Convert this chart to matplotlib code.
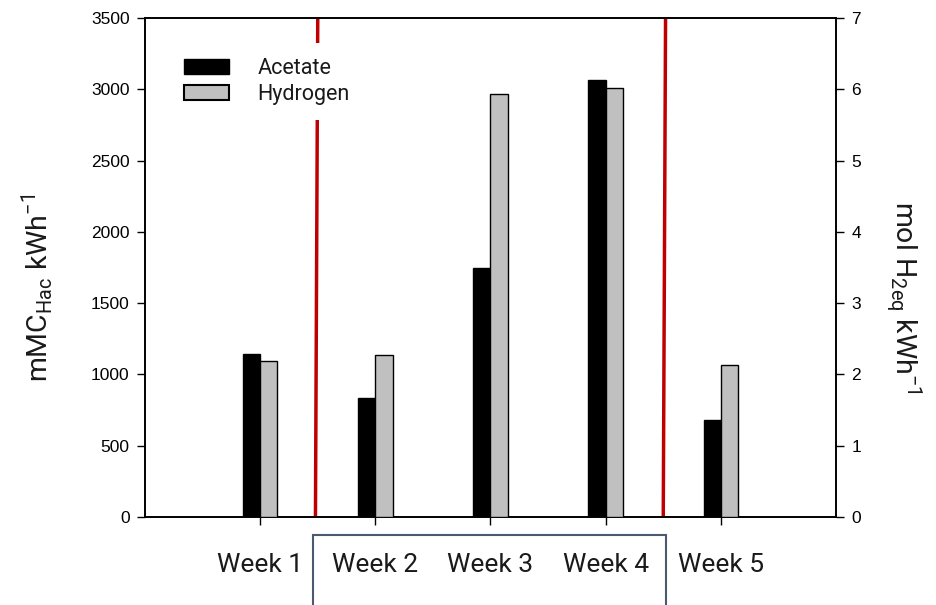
import numpy as np
import matplotlib
matplotlib.use('Agg')
import matplotlib.pyplot as plt
from matplotlib.patches import Rectangle, Patch

# Dane
tygodnie = ['Week 1', 'Week 2', 'Week 3', 'Week 4', 'Week 5']
octan = [1140, 835, 1746, 3065, 680]          # mMC_Hac kWh^-1 (lewa os)
wodor = [2.19, 2.27, 5.93, 6.02, 2.13]        # mol H2eq kWh^-1 (prawa os)
granice = [(0.50, 0.48), (3.52, 3.50)]        # czerwone linie (gora, dol)

fig = plt.figure(figsize=(9.36, 6.05), dpi=100)
ax = fig.add_axes([145 / 936, 1 - 517 / 605, 691 / 936, 499 / 605])
ax2 = ax.twinx()

x = np.arange(len(tygodnie))
w = 0.15
ax.bar(x - w / 2, octan, w, color='black', edgecolor='black', linewidth=1, zorder=3)
ax2.bar(x + w / 2, wodor, w, color='#c0c0c0', edgecolor='black', linewidth=1, zorder=3)

for top, bot in granice:
    ax.plot([bot, top], [0, 3500], color='#c00000', lw=2.5, zorder=2)

ax.set_xlim(-1, 5)
ax.set_ylim(0, 3500)
ax2.set_ylim(0, 7)
ax.set_yticks(range(0, 3501, 500))
ax2.set_yticks(range(0, 8))

for a in (ax, ax2):
    a.tick_params(axis='y', direction='out', length=6, width=1, labelsize=12.5, pad=5)
    for lab in a.get_yticklabels():
        lab.set_fontfamily('Liberation Sans')
    for s in a.spines.values():
        s.set_linewidth(1.2)

tekst = '#1a1a1a'
ax.set_xticks(x)
ax.set_xticklabels(tygodnie, family='Roboto', fontsize=19, color=tekst)
ax.tick_params(axis='x', direction='out', length=6, width=1, pad=20)

ax.set_ylabel(r'mMC$_{\mathregular{Hac}}$ kWh$^{\mathregular{-1}}$', family='Roboto',
              fontsize=20.5, color=tekst)
ax.yaxis.set_label_coords(-0.13, 0.46)
ax2.set_ylabel(r'mol H$_{\mathregular{2eq}}$ kWh$^{\mathregular{-1}}$', family='Roboto',
               fontsize=20.5, color=tekst, rotation=270, va='bottom')
ax2.yaxis.set_label_coords(1.07, 0.44)

handles = [Patch(facecolor='black', edgecolor='black'),
           Patch(facecolor='#c0c0c0', edgecolor='black', linewidth=1.5)]
leg = ax2.legend(handles, ['Acetate', 'Hydrogen'], loc='upper left',
                 bbox_to_anchor=(0.035, 0.95), borderaxespad=0,
                 prop=dict(family='Roboto', size=15.5),
                 handlelength=2.1, handleheight=0.68, labelspacing=0.25,
                 handletextpad=1.3, frameon=True, fancybox=False,
                 facecolor='white', edgecolor='none', framealpha=1,
                 borderpad=0.7)
for t in leg.get_texts():
    t.set_color(tekst)
leg.set_zorder(10)

# Ramka wokol tygodni 2-4
fig.patches.append(Rectangle((313 / 936, -0.05), (666 - 313) / 936, (605 - 535) / 605 + 0.05,
                             transform=fig.transFigure, fill=False,
                             edgecolor='#4a5a70', linewidth=1.5))

fig.savefig('out.png', dpi=100)
